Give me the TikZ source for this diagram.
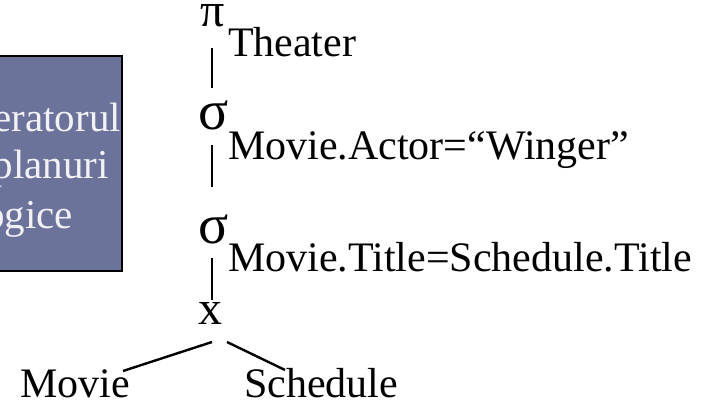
\documentclass[tikz,border=0pt]{standalone}
\usepackage{fontspec}
\setmainfont{Liberation Serif}
\usetikzlibrary{calc}
\definecolor{boxfill}{RGB}{107,115,155}
\definecolor{boxtext}{RGB}{242,242,246}
\begin{document}
\begin{tikzpicture}[x=1pt,y=-1pt,
  lbl/.style={inner sep=0pt, outer sep=0pt, anchor=base west, font=\fontsize{42}{50}\selectfont},
  greek/.style={inner sep=0pt, outer sep=0pt, anchor=base west, font=\fontsize{56}{60}\selectfont},
  boxtxt/.style={inner sep=0pt, outer sep=0pt, anchor=base east, text=boxtext, font=\fontsize{41}{48}\selectfont},
  panel/.style={draw=black, line width=2.5pt, fill=boxfill, inner sep=0pt, outer sep=0pt},
  edge/.style={line width=2.4pt}]
\useasboundingbox (0,0) rectangle (707,403);
% left panel (cut by the picture's edge)
\node[panel, minimum width=152pt, minimum height=215pt, anchor=north east] (panel) at (122,56) {};
\node[boxtxt] (p1) at (121,132) {eratorul};
\node[boxtxt] (p2) at (109,179) {planuri};
\node[boxtxt] (p3) at (73,229) {ogice};
% tree
\node[greek, font=\fontsize{48}{52}\selectfont] (pi) at (200,27) {π};
\node[lbl] (th) at (228,57) {Theater};
\node[greek] (s1) at (198,130) {σ};
\node[lbl] (a1) at (228,160) {Movie.Actor=“Winger”};
\node[greek] (s2) at (198,244) {σ};
\node[lbl] (t2) at (228,272) {Movie.Title=Schedule.Title};
\node[lbl, anchor=base, font=\fontsize{48}{52}\selectfont] (x) at (210,325) {x};
\node[lbl, anchor=base east] (mv) at (130,397) {Movie};
\node[lbl] (sc) at (244,397) {Schedule};
% connectors
\draw[edge] ($(pi.base west)+(12,21)$) -- ($(pi.base west)+(12,61)$);
\draw[edge] ($(s1.base west)+(14,15)$) -- ($(s1.base west)+(14,57)$);
\draw[edge] ($(s2.base west)+(14,14)$) -- ($(s2.base west)+(14,56)$);
\draw[edge] ($(x.base)+(2,17)$) -- ($(mv.base east)+(-7,-26)$);
\draw[edge] ($(x.base)+(17,17)$) -- ($(sc.base west)+(41,-27)$);
\end{tikzpicture}
\end{document}
